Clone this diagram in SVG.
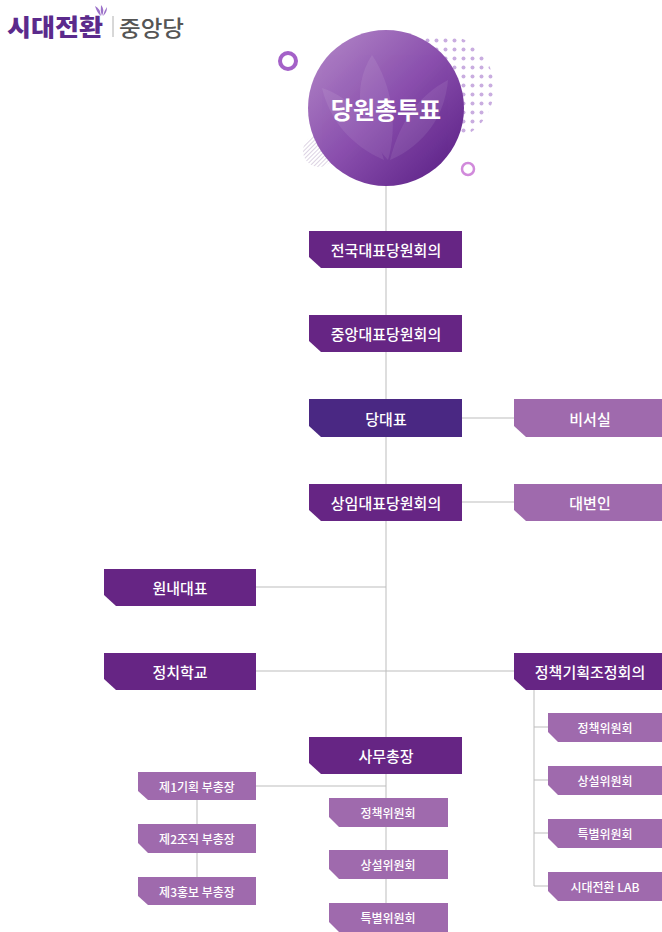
<svg xmlns="http://www.w3.org/2000/svg" width="662" height="932" viewBox="0 0 662 932">
  <defs>
    <linearGradient id="ballGrad" x1="0" y1="0" x2="1" y2="1">
      <stop offset="0" stop-color="#b58bc9"/>
      <stop offset="0.5" stop-color="#8a4fad"/>
      <stop offset="1" stop-color="#561b82"/>
    </linearGradient>
    <pattern id="dots" width="9" height="9" patternUnits="userSpaceOnUse">
      <circle cx="4.5" cy="4.5" r="2" fill="#c9ade0"/>
    </pattern>
    <pattern id="hatch" width="3" height="3" patternUnits="userSpaceOnUse" patternTransform="rotate(45)">
      <line x1="0" y1="0" x2="0" y2="3" stroke="#b9a8c8" stroke-width="1"/>
    </pattern>
    <clipPath id="dotClip">
      <circle cx="440" cy="88" r="54"/>
    </clipPath>
    <clipPath id="ballClip">
      <circle cx="386" cy="108" r="78"/>
    </clipPath>
  </defs>
  <style>
    .conn { stroke: #bdbdbd; stroke-width: 1; fill: none; }
    .main { fill: #662584; }
    .head { fill: #4a2883; }
    .side { fill: #9f6aad; }
    .t { font-family: "Noto Sans CJK KR", "Noto Sans", sans-serif; fill: #ffffff; text-anchor: middle; dominant-baseline: central; }
    .tl { font-size: 15px; font-weight: 500; }
    .ts { font-size: 12px; font-weight: 500; }
  </style>

  <rect width="662" height="932" fill="#ffffff"/>

  <!-- logo -->
  <g id="logo">
    <text x="7" y="36" font-family="Noto Sans CJK KR, sans-serif" font-size="24" font-weight="900" fill="#5b2a8c" textLength="96" lengthAdjust="spacingAndGlyphs">시대전환</text>
    <path d="M95 6 q5 2 6 10 q-4 -3 -6 -10 z M101 5 q4 4 1 11 q-2 -5 -1 -11 z M107 7 q0 6 -4 9 q1 -5 4 -9 z" fill="#9c72c9"/>
    <line x1="113" y1="16" x2="113" y2="37" stroke="#b0b0b0" stroke-width="1"/>
    <text x="119" y="36" font-family="Noto Sans CJK KR, sans-serif" font-size="22" font-weight="500" fill="#555555" textLength="65" lengthAdjust="spacingAndGlyphs">중앙당</text>
  </g>

  <!-- decorations around the ballot circle -->
  <g id="decor">
    <rect x="386" y="30" width="112" height="125" fill="url(#dots)" clip-path="url(#dotClip)"/>
    <circle cx="319" cy="151" r="16" fill="url(#hatch)"/>
    <circle cx="288" cy="61" r="8" fill="none" stroke="#a461c8" stroke-width="4"/>
    <circle cx="468" cy="169" r="6" fill="none" stroke="#d18adb" stroke-width="2.5"/>
  </g>

  <!-- connectors -->
  <g id="connectors">
    <line class="conn" x1="386" y1="185" x2="386" y2="903"/>
    <line class="conn" x1="462" y1="418" x2="514" y2="418"/>
    <line class="conn" x1="462" y1="502" x2="514" y2="502"/>
    <line class="conn" x1="256" y1="587" x2="386" y2="587"/>
    <line class="conn" x1="256" y1="671" x2="514" y2="671"/>
    <line class="conn" x1="256" y1="786" x2="386" y2="786"/>
    <line class="conn" x1="197" y1="800" x2="197" y2="877"/>
    <polyline class="conn" points="534,690 534,886 548,886"/>
    <line class="conn" x1="534" y1="727" x2="548" y2="727"/>
    <line class="conn" x1="534" y1="780" x2="548" y2="780"/>
    <line class="conn" x1="534" y1="833" x2="548" y2="833"/>
  </g>

  <!-- top node: ballot circle -->
  <g id="n-vote">
    <circle cx="386" cy="108" r="78" fill="url(#ballGrad)"/>
    <g clip-path="url(#ballClip)" fill="#ffffff" opacity="0.08">
      <path d="M388 160 C360 130 350 90 372 55 C392 85 398 125 388 160 z"/>
      <path d="M390 160 C400 120 420 95 448 80 C445 115 425 145 390 160 z"/>
      <path d="M384 160 C350 145 330 120 322 88 C352 98 374 125 384 160 z"/>
    </g>
    <text class="t" x="386" y="108" font-size="24" font-weight="700">당원총투표</text>
  </g>

  <!-- main column -->
  <g id="n-national">
    <path class="main" d="M309 231 H462 V268 H321 L309 257 Z"/>
    <text class="t tl" x="386" y="249">전국대표당원회의</text>
  </g>
  <g id="n-central">
    <path class="main" d="M309 315 H462 V352 H321 L309 341 Z"/>
    <text class="t tl" x="386" y="333">중앙대표당원회의</text>
  </g>
  <g id="n-leader">
    <path class="head" d="M309 399 H462 V437 H321 L309 426 Z"/>
    <text class="t tl" x="386" y="418">당대표</text>
  </g>
  <g id="n-standing">
    <path class="main" d="M309 484 H462 V521 H321 L309 510 Z"/>
    <text class="t tl" x="386" y="502">상임대표당원회의</text>
  </g>
  <g id="n-secgen">
    <path class="main" d="M309 737 H462 V774 H321 L309 763 Z"/>
    <text class="t tl" x="386" y="755">사무총장</text>
  </g>

  <!-- right side -->
  <g id="n-secretary">
    <path class="side" d="M514 399 H662 V437 H526 L514 426 Z"/>
    <text class="t tl" x="590" y="418">비서실</text>
  </g>
  <g id="n-spokes">
    <path class="side" d="M514 484 H662 V521 H526 L514 510 Z"/>
    <text class="t tl" x="590" y="502">대변인</text>
  </g>
  <g id="n-policy-coord">
    <path class="main" d="M514 653 H662 V690 H526 L514 679 Z"/>
    <text class="t tl" x="590" y="671">정책기획조정회의</text>
  </g>

  <!-- left side -->
  <g id="n-floor">
    <path class="main" d="M104 569 H256 V606 H116 L104 595 Z"/>
    <text class="t tl" x="180" y="587">원내대표</text>
  </g>
  <g id="n-school">
    <path class="main" d="M104 653 H256 V690 H116 L104 679 Z"/>
    <text class="t tl" x="180" y="671">정치학교</text>
  </g>

  <!-- deputy secretaries -->
  <g id="n-dep1">
    <path class="side" d="M138 772 H256 V800 H148 L138 791 Z"/>
    <text class="t ts" x="197" y="786">제1기획 부총장</text>
  </g>
  <g id="n-dep2">
    <path class="side" d="M138 824 H256 V853 H148 L138 843 Z"/>
    <text class="t ts" x="197" y="838">제2조직 부총장</text>
  </g>
  <g id="n-dep3">
    <path class="side" d="M138 877 H256 V905 H148 L138 896 Z"/>
    <text class="t ts" x="197" y="891">제3홍보 부총장</text>
  </g>

  <!-- committees under the secretary general -->
  <g id="n-c-policy">
    <path class="side" d="M329 798 H448 V827 H339 L329 817 Z"/>
    <text class="t ts" x="388" y="812">정책위원회</text>
  </g>
  <g id="n-c-standing">
    <path class="side" d="M329 850 H448 V879 H339 L329 869 Z"/>
    <text class="t ts" x="388" y="864">상설위원회</text>
  </g>
  <g id="n-c-special">
    <path class="side" d="M329 903 H448 V932 H339 L329 922 Z"/>
    <text class="t ts" x="388" y="917">특별위원회</text>
  </g>

  <!-- committees under policy coordination -->
  <g id="n-r-policy">
    <path class="side" d="M548 713 H662 V742 H558 L548 732 Z"/>
    <text class="t ts" x="605" y="727">정책위원회</text>
  </g>
  <g id="n-r-standing">
    <path class="side" d="M548 766 H662 V795 H558 L548 785 Z"/>
    <text class="t ts" x="605" y="780">상설위원회</text>
  </g>
  <g id="n-r-special">
    <path class="side" d="M548 819 H662 V848 H558 L548 838 Z"/>
    <text class="t ts" x="605" y="833">특별위원회</text>
  </g>
  <g id="n-r-lab">
    <path class="side" d="M548 872 H662 V901 H558 L548 891 Z"/>
    <text class="t ts" x="605" y="886">시대전환 LAB</text>
  </g>
</svg>
